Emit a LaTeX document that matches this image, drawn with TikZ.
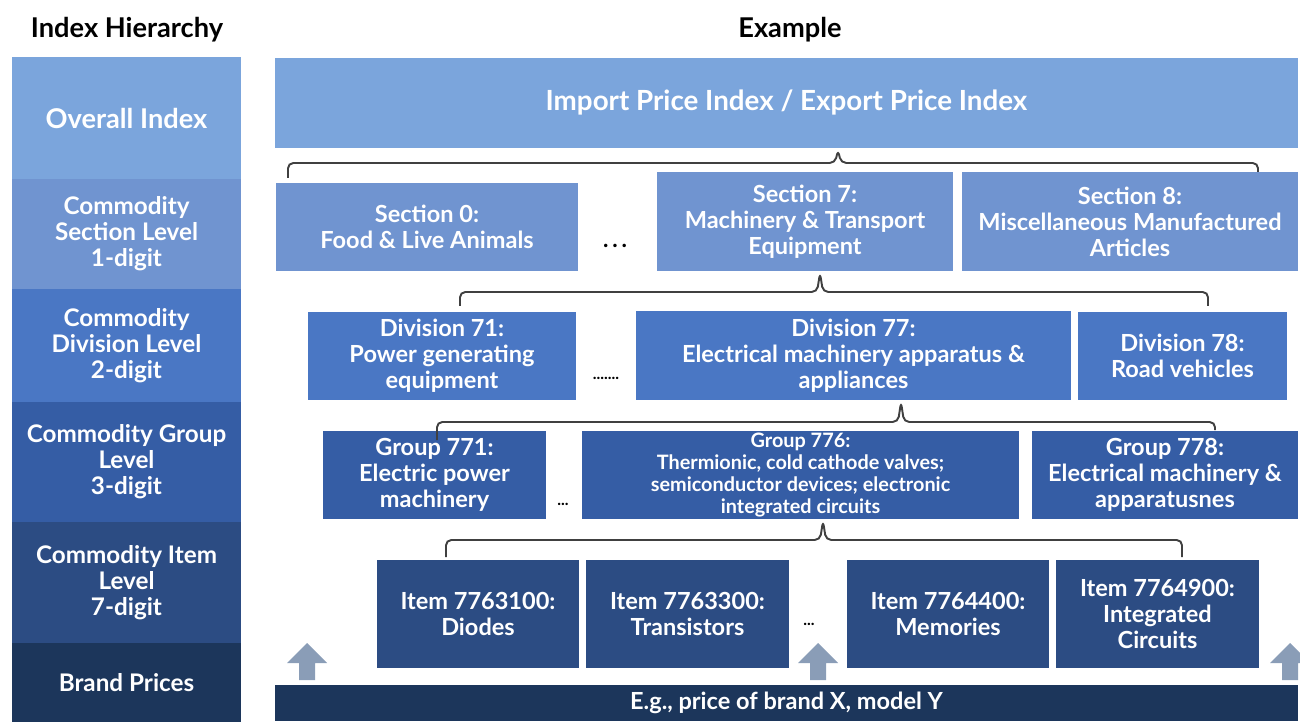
\documentclass[tikz,border=0pt]{standalone}
\usepackage{fontspec}
\setmainfont{Lato}
\definecolor{lvlA}{HTML}{7BA5DC}
\definecolor{lvlB}{HTML}{7094D0}
\definecolor{lvlC}{HTML}{4A77C4}
\definecolor{lvlD}{HTML}{355DA5}
\definecolor{lvlE}{HTML}{2C4C83}
\definecolor{lvlF}{HTML}{1C365B}
\definecolor{braceclr}{HTML}{404040}
\definecolor{arrowclr}{HTML}{8A9DB7}

\begin{document}
\begin{tikzpicture}[x=0.02cm,y=-0.02cm,
    lvl/.style={fill=#1,text=white,font=\bfseries\fontsize{13.8}{14.8}\selectfont,align=center,minimum width=4.58cm,inner sep=0pt},
    box/.style={fill=#1,draw=white,line width=.6pt,text=white,font=\bfseries\fontsize{13.4}{14.8}\selectfont,align=center,inner sep=0pt},
    brace/.style={draw=braceclr,line width=1.1pt,rounded corners=3pt},
    uparrow/.style={fill=arrowclr},
    dots/.style={font=\bfseries\fontsize{13}{14}\selectfont}]
    \useasboundingbox (0,0) rectangle (1300,722);
    \node[font=\bfseries\fontsize{15.5}{17}\selectfont] (title1) at (127,30) {Index Hierarchy};
    \node[font=\bfseries\fontsize{15.5}{17}\selectfont] (title2) at (790,30) {Example};
    % Hierarchy column ======================================
    \node[lvl=lvlA,minimum height=2.44cm] (L0) at (126.5,118)   {\fontsize{15.5}{17}\selectfont Overall Index};
    \node[lvl=lvlB,minimum height=2.2cm]  (L1) at (126.5,234)   {Commodity\\Section Level\\1-digit};
    \node[lvl=lvlC,minimum height=2.26cm] (L2) at (126.5,345.5) {Commodity\\Division Level\\2-digit};
    \node[lvl=lvlD,minimum height=2.4cm]  (L3) at (126.5,462)   {Commodity Group\\Level\\3-digit};
    \node[lvl=lvlE,minimum height=2.42cm] (L4) at (126.5,582.5) {Commodity Item\\Level\\7-digit};
    \node[lvl=lvlF,minimum height=1.58cm] (L5) at (126.5,682.5) {Brand Prices};
    % Overall ===============================================
    \node[box=lvlA,minimum width=20.5cm,minimum height=1.84cm] (T) at (786.5,103) {\fontsize{15.8}{17}\selectfont Import Price Index / Export Price Index};
    % Sections ==============================================
    \node[box=lvlB,minimum width=6.08cm,minimum height=1.8cm]  (S0) at (427,227)    {Section 0:\\Food \& Live Animals};
    \node[box=lvlB,minimum width=5.96cm,minimum height=2.02cm] (S7) at (805,221.5)  {Section 7:\\Machinery \& Transport\\Equipment};
    \node[box=lvlB,minimum width=6.76cm,minimum height=2.02cm] (S8) at (1130,221.5) {Section 8:\\Miscellaneous Manufactured\\Articles};
    \node[dots] (dS) at (615,246) {.\,.\,.};
    % Divisions =============================================
    \node[box=lvlC,minimum width=5.4cm,minimum height=1.8cm]   (D71) at (442,356)    {Division 71:\\Power generating\\equipment};
    \node[box=lvlC,minimum width=8.74cm,minimum height=1.82cm] (D77) at (853.5,355.5) {Division 77:\\Electrical machinery apparatus \&\\appliances};
    \node[box=lvlC,minimum width=4.22cm,minimum height=1.8cm]  (D78) at (1182.5,356) {Division 78:\\Road vehicles};
    \node[dots,font=\bfseries\small] (dD) at (606,378) {.......};
    % Groups ================================================
    \node[box=lvlD,minimum width=4.5cm,minimum height=1.8cm]  (G771) at (434.5,475) {Group 771:\\Electric power\\machinery};
    \node[box=lvlD,minimum width=8.78cm,minimum height=1.8cm,font=\bfseries\fontsize{11.3}{12.6}\selectfont] (G776) at (800.5,475) {Group 776:\\Thermionic, cold cathode valves;\\semiconductor devices; electronic\\integrated circuits};
    \node[box=lvlD,minimum width=5.36cm,minimum height=1.8cm] (G778) at (1165,475)  {Group 778:\\Electrical machinery \&\\apparatusnes};
    \node[dots,font=\bfseries\small] (dG) at (563,504) {...};
    % Items =================================================
    \node[box=lvlE,minimum width=4.08cm,minimum height=2.2cm] (I1) at (478,614)    {Item 7763100:\\Diodes};
    \node[box=lvlE,minimum width=4.1cm,minimum height=2.2cm]  (I2) at (687.5,614)  {Item 7763300:\\Transistors};
    \node[box=lvlE,minimum width=4.08cm,minimum height=2.2cm] (I3) at (948,614)    {Item 7764400:\\Memories};
    \node[box=lvlE,minimum width=4.1cm,minimum height=2.2cm]  (I4) at (1157.5,614) {Item 7764900:\\Integrated\\Circuits};
    \node[dots,font=\bfseries\small] (dI) at (809,624) {...};
    % Brand prices ==========================================
    \node[box=lvlF,minimum width=20.5cm,minimum height=.76cm] (B) at (786.5,703) {E.g., price of brand X, model Y};
    \fill[uparrow] (299,680) -- (299,663) -- (287,663) -- (307,643) -- (327,663) -- (315,663) -- (315,680) -- cycle;
    \fill[uparrow] (810,680) -- (810,663) -- (798,663) -- (818,643) -- (838,663) -- (826,663) -- (826,680) -- cycle;
    \fill[uparrow] (1282,680) -- (1282,663) -- (1270,663) -- (1290,643) -- (1310,663) -- (1298,663) -- (1298,680) -- cycle;
    % Braces ================================================
    \draw[brace] (288,178) |- (835,163) -- (838,150) -- (841,163) -| (1258,172);
    \draw[brace] (460,306) |- (817,292) -- (820,273) -- (823,292) -| (1208,306);
    \draw[brace] (437,440) |- (898,422) -- (901,402) -- (904,422) -| (1215,430);
    \draw[brace] (446,557) |- (820,540) -- (823,521) -- (826,540) -| (1182,557);
\end{tikzpicture}
\end{document}
